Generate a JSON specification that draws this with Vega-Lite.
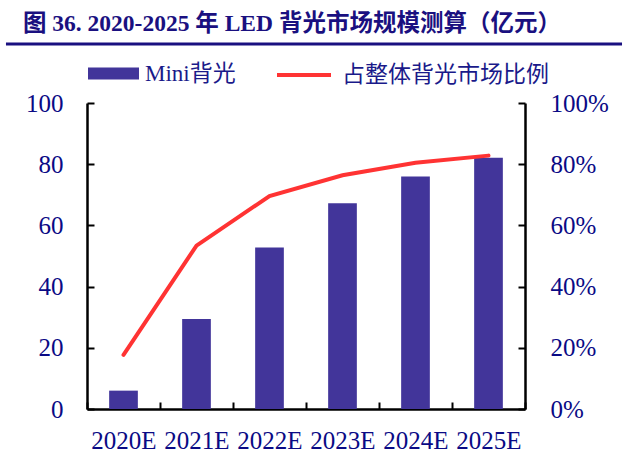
{
  "$schema": "https://vega.github.io/schema/vega-lite/v6.json",
  "width": 438,
  "height": 306,
  "autosize": {"type": "none"},
  "padding": {"left": 87, "top": 103, "right": 109, "bottom": 47},
  "background": "white",
  "config": {
    "view": {"stroke": null},
    "axis": {
      "grid": false,
      "domainColor": "#000000",
      "domainWidth": 2.5,
      "tickColor": "#000000",
      "tickWidth": 2,
      "tickSize": -7,
      "labelFont": "Liberation Serif",
      "labelFontSize": 25,
      "labelColor": "#0A0A85",
      "title": null
    }
  },
  "title": {
    "text": "图 36. 2020-2025 年 LED 背光市场规模测算（亿元）",
    "anchor": "start",
    "frame": "group",
    "dx": -64,
    "dy": 3,
    "font": "Liberation Serif, Noto Sans CJK SC",
    "fontSize": 23.5,
    "fontWeight": "bold",
    "color": "#1A1080",
    "offset": 10
  },
  "data": {
    "values": [
      {"year": "2020E", "mini": 6.0, "share": 0.177},
      {"year": "2021E", "mini": 29.4, "share": 0.534},
      {"year": "2022E", "mini": 52.8, "share": 0.696},
      {"year": "2023E", "mini": 67.2, "share": 0.764},
      {"year": "2024E", "mini": 76.0, "share": 0.805},
      {"year": "2025E", "mini": 82.1, "share": 0.828}
    ]
  },
  "layer": [
    {
      "layer": [
        {
          "mark": {"type": "bar", "width": {"band": 0.393}},
          "encoding": {
            "x": {
              "field": "year",
              "type": "nominal",
              "sort": null,
              "scale": {"paddingInner": 0, "paddingOuter": 0},
              "axis": {"labelAngle": 0, "tickBand": "extent", "labelPadding": 26}
            },
            "y": {
              "field": "mini",
              "type": "quantitative",
              "scale": {"domain": [0, 100], "nice": false},
              "axis": {"orient": "left", "values": [0, 20, 40, 60, 80, 100], "labelPadding": 31}
            },
            "fill": {
              "datum": "Mini背光",
              "scale": {"range": ["#42359A"]},
              "legend": {
                "orient": "none",
                "legendX": 1,
                "legendY": -55,
                "title": null,
                "padding": 0,
                "symbolType": "M-1,-0.235H1V0.235H-1Z",
                "symbolSize": 2601,
                "symbolStrokeWidth": 0,
                "labelOffset": 6,
                "labelLimit": 400,
                "labelFont": "Liberation Serif, Noto Sans CJK SC",
                "labelFontSize": 23,
                "labelColor": "#1A1A8A"
              }
            }
          }
        },
        {
          "mark": {"type": "line", "strokeWidth": 4, "strokeCap": "round"},
          "encoding": {
            "x": {"field": "year", "type": "nominal", "sort": null},
            "y": {
              "field": "share",
              "type": "quantitative",
              "scale": {"domain": [0, 1], "nice": false},
              "axis": {"orient": "right", "format": ".0%", "values": [0, 0.2, 0.4, 0.6, 0.8, 1], "labelPadding": 32}
            },
            "stroke": {
              "datum": "占整体背光市场比例",
              "scale": {"range": ["#FF3333"]},
              "legend": {
                "orient": "none",
                "legendX": 188,
                "legendY": -57,
                "title": null,
                "padding": 0,
                "symbolType": "stroke",
                "symbolSize": 2916,
                "symbolStrokeWidth": 4,
                "labelOffset": 9,
                "labelLimit": 400,
                "labelFont": "Liberation Serif, Noto Sans CJK SC",
                "labelFontSize": 23,
                "labelColor": "#1A1A8A"
              }
            }
          }
        }
      ],
      "resolve": {"scale": {"y": "independent"}}
    },
    {
      "data": {"values": [{}]},
      "mark": {"type": "rule", "color": "#1A1080", "strokeWidth": 3},
      "encoding": {
        "x": {"datum": -0.185, "type": "quantitative", "scale": {"domain": [0, 1], "nice": false, "zero": false}, "axis": null},
        "x2": {"datum": 1.2215},
        "y": {"datum": 1.193, "type": "quantitative", "scale": {"domain": [0, 1], "nice": false}, "axis": null}
      }
    }
  ],
  "resolve": {"scale": {"x": "independent", "y": "independent"}}
}
